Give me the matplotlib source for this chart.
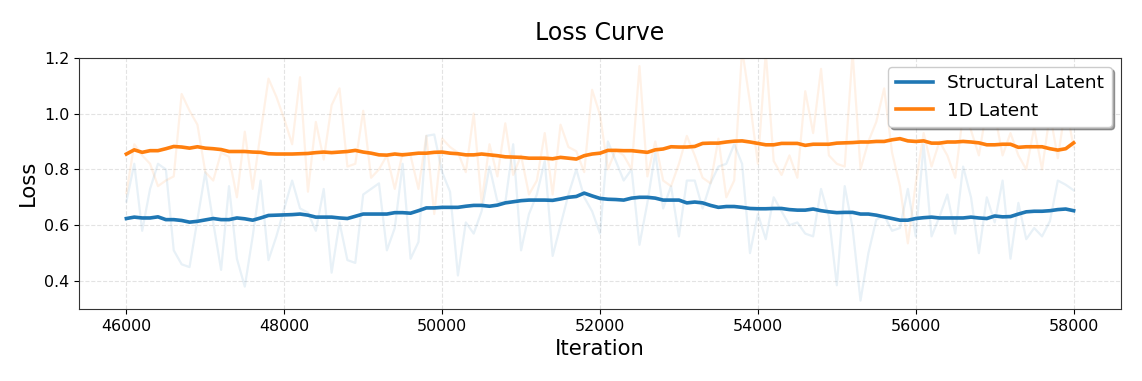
import numpy as np
import matplotlib
matplotlib.use("Agg")
import matplotlib.pyplot as plt

iterations = np.arange(46000, 58001, 100)

structural_raw = [
    0.685, 0.82, 0.58, 0.73, 0.82, 0.80, 0.51, 0.46, 0.45, 0.62,
    0.79, 0.61, 0.44, 0.74, 0.48, 0.38, 0.56, 0.76, 0.475, 0.56,
    0.66, 0.76, 0.66, 0.645, 0.58, 0.73, 0.43, 0.61, 0.475, 0.465,
    0.71, 0.73, 0.75, 0.51, 0.59, 0.82, 0.48, 0.54, 0.92, 0.925,
    0.79, 0.72, 0.42, 0.61, 0.57, 0.65, 0.81, 0.685, 0.68, 0.89,
    0.51, 0.64, 0.71, 0.83, 0.49, 0.60, 0.71, 0.80, 0.70, 0.65,
    0.57, 0.90, 0.83, 0.76, 0.80, 0.53, 0.68, 0.86, 0.66, 0.74,
    0.56, 0.76, 0.76, 0.66, 0.75, 0.81, 0.82, 0.89, 0.82, 0.50,
    0.64, 0.55, 0.70, 0.65, 0.60, 0.61, 0.57, 0.56, 0.73, 0.63,
    0.385, 0.74, 0.59, 0.33, 0.50, 0.62, 0.635, 0.58, 0.59, 0.73,
    0.56, 0.89, 0.56, 0.63, 0.71, 0.57, 0.81, 0.70, 0.50, 0.70,
    0.61, 0.76, 0.48, 0.68, 0.55, 0.59, 0.56, 0.615, 0.76, 0.745,
    0.725,
]

latent1d_raw = [
    0.715, 0.89, 0.85, 0.82, 0.74, 0.76, 0.775, 1.07, 1.01, 0.96,
    0.79, 0.76, 0.86, 0.845, 0.70, 0.935, 0.73, 0.93, 1.125, 1.06,
    0.98, 0.89, 1.13, 0.72, 0.97, 0.835, 1.03, 1.09, 0.81, 0.82,
    1.01, 0.77, 0.80, 0.85, 0.73, 0.86, 0.85, 0.73, 0.92, 0.64,
    0.91, 0.88, 0.86, 0.79, 1.00, 0.68, 0.89, 0.775, 0.965, 0.78,
    0.85, 0.71, 0.76, 0.93, 0.71, 0.96, 0.88, 0.865, 0.79, 1.085,
    0.995, 0.80, 0.87, 0.85, 0.80, 1.17, 0.775, 0.90, 0.76, 0.74,
    0.82, 0.92, 0.85, 0.77, 0.75, 0.91, 0.70, 0.76, 1.23, 1.04,
    0.82, 1.22, 0.83, 0.78, 0.85, 0.77, 1.08, 0.93, 1.16, 0.85,
    0.82, 0.81, 1.22, 0.80, 0.90, 0.97, 1.09, 0.86, 0.74, 0.535,
    0.75, 0.93, 0.81, 0.90, 0.85, 0.77, 1.00, 0.94, 0.85, 1.02,
    1.00, 0.85, 0.93, 0.85, 0.80, 0.95, 0.80, 1.00, 0.84, 1.03,
    0.88,
]

structural_smooth = [
    0.624, 0.629, 0.626, 0.626, 0.630, 0.620, 0.620, 0.617, 0.611, 0.614,
    0.619, 0.624, 0.620, 0.620, 0.626, 0.623, 0.618, 0.626, 0.635, 0.636,
    0.637, 0.638, 0.640, 0.636, 0.629, 0.629, 0.629, 0.626, 0.624, 0.632,
    0.640, 0.640, 0.640, 0.640, 0.645, 0.645, 0.643, 0.652, 0.662, 0.662,
    0.664, 0.664, 0.664, 0.668, 0.671, 0.671, 0.668, 0.672, 0.680, 0.684,
    0.688, 0.690, 0.690, 0.690, 0.689, 0.694, 0.700, 0.703, 0.715, 0.705,
    0.696, 0.693, 0.692, 0.690, 0.697, 0.700, 0.700, 0.697, 0.690, 0.690,
    0.690, 0.680, 0.683, 0.680, 0.671, 0.664, 0.667, 0.667, 0.664, 0.660,
    0.659, 0.659, 0.660, 0.660, 0.656, 0.654, 0.654, 0.658, 0.652, 0.648,
    0.645, 0.646, 0.646, 0.640, 0.640, 0.636, 0.630, 0.624, 0.618, 0.618,
    0.624, 0.627, 0.629, 0.626, 0.626, 0.626, 0.626, 0.629, 0.626, 0.624,
    0.633, 0.630, 0.631, 0.640, 0.648, 0.650, 0.650, 0.652, 0.656, 0.658,
    0.652,
]

latent1d_smooth = [
    0.855, 0.870, 0.861, 0.867, 0.867, 0.874, 0.882, 0.880, 0.876, 0.881,
    0.876, 0.874, 0.871, 0.864, 0.864, 0.864, 0.862, 0.861, 0.856, 0.855,
    0.855, 0.855, 0.856, 0.857, 0.860, 0.862, 0.860, 0.862, 0.864, 0.868,
    0.862, 0.858, 0.852, 0.851, 0.855, 0.852, 0.855, 0.858, 0.858, 0.861,
    0.862, 0.858, 0.856, 0.852, 0.852, 0.855, 0.852, 0.849, 0.845, 0.844,
    0.843, 0.840, 0.840, 0.840, 0.838, 0.843, 0.840, 0.837, 0.849, 0.855,
    0.858, 0.868, 0.868, 0.867, 0.867, 0.864, 0.861, 0.870, 0.873, 0.881,
    0.880, 0.880, 0.882, 0.893, 0.894, 0.894, 0.898, 0.901, 0.902, 0.898,
    0.893, 0.888, 0.888, 0.893, 0.893, 0.893, 0.886, 0.890, 0.890, 0.890,
    0.894, 0.895, 0.896, 0.898, 0.898, 0.900, 0.900, 0.906, 0.910, 0.902,
    0.900, 0.902, 0.894, 0.894, 0.898, 0.898, 0.900, 0.898, 0.895, 0.888,
    0.888, 0.890, 0.890, 0.879, 0.881, 0.881, 0.881, 0.874, 0.869, 0.874,
    0.895,
]

series_labels = ["Structural Latent", "1D Latent"]
title_text = "Loss Curve"
x_label = "Iteration"
y_label = "Loss"
x_ticks = [46000, 48000, 50000, 52000, 54000, 56000, 58000]
y_ticks = [0.4, 0.6, 0.8, 1.0, 1.2]

blue = "#1f77b4"
orange = "#ff7f0e"

fig = plt.figure(figsize=(11.42, 3.81), dpi=100)
ax = fig.add_axes([0.0692, 0.189, 0.9816 - 0.0692, 0.8486 - 0.189])

ax.plot(iterations, structural_raw, color=blue, alpha=0.1, linewidth=1.6)
ax.plot(iterations, latent1d_raw, color=orange, alpha=0.1, linewidth=1.6)
ax.plot(iterations, structural_smooth, color=blue, linewidth=2.6, label=series_labels[0])
ax.plot(iterations, latent1d_smooth, color=orange, linewidth=2.6, label=series_labels[1])

ax.set_ylim(0.3, 1.2)
ax.set_xlim(45400, 58600)
ax.set_xticks(x_ticks)
ax.set_yticks(y_ticks)
ax.set_yticklabels([f"{v:.1f}" for v in y_ticks])
ax.tick_params(labelsize=11.4)
ax.grid(True, linestyle="--", alpha=0.35, color="#b0b0b0")
for s in ax.spines.values():
    s.set_color("#333333")

ax.set_xlabel(x_label, fontsize=15.2)
ax.set_ylabel(y_label, fontsize=15.2)
ax.set_title(title_text, fontsize=17, pad=13)

leg = ax.legend(loc="upper right", fontsize=13.3, fancybox=True, shadow=True,
                framealpha=1.0)

fig.savefig("out.png", dpi=100)
